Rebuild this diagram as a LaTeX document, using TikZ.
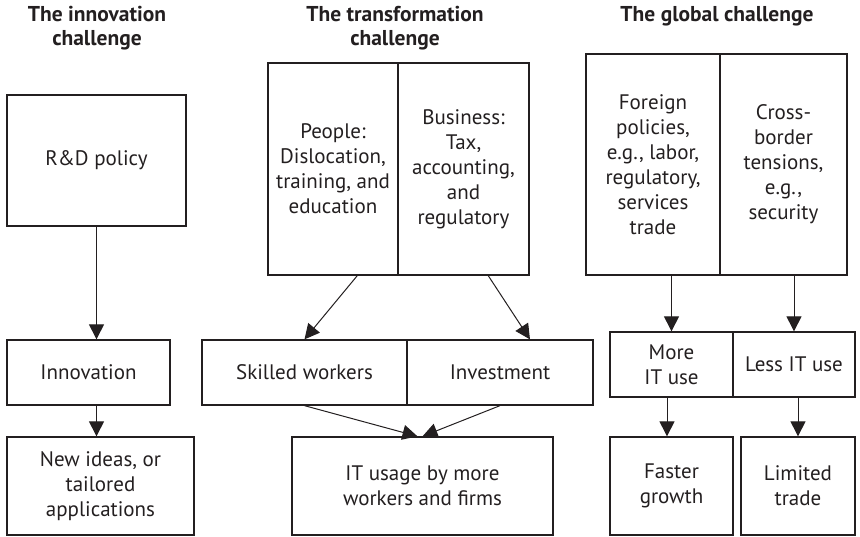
\documentclass[tikz,border=0pt]{standalone}
\usepackage{fontspec}
\setmainfont{PT Sans}
\usetikzlibrary{arrows.meta,calc}
\definecolor{ink}{HTML}{231F20}
\tikzset{
  box/.style={draw=ink, line width=1.3pt, inner sep=0pt, align=center, text=ink,
    font=\fontsize{21}{25}\selectfont},
  ttl/.style={inner sep=0pt, align=center, text=ink, font=\bfseries\fontsize{21.5}{24}\selectfont},
  arr/.style={draw=ink, line width=1pt, -{Triangle[length=15pt,width=15pt]}}
}
\begin{document}
\begin{tikzpicture}[x=1pt,y=-1pt]
\useasboundingbox (0,0) rectangle (860,536);
% titles
\node[ttl] (t1) at (97,28) {The innovation\\challenge};
\node[ttl] (t2) at (395,28) {The transformation\\challenge};
\node[ttl] (t3) at (717,16) {The global challenge};
% innovation column
\node[box, minimum width=179pt, minimum height=131pt] (rd) at (96.5,160.5) {R\&D policy};
\node[box, minimum width=163pt, minimum height=65pt] (inno) at (88.5,372.5) {Innovation};
\node[box, minimum width=187pt, minimum height=98pt] (newid) at (100.5,486) {New ideas, or\\tailored\\applications};
% transformation column
\node[box, minimum width=130pt, minimum height=212pt] (people) at (333,169) {People:\\Dislocation,\\training, and\\education};
\node[box, minimum width=131pt, minimum height=212pt] (business) at (463.5,169) {Business:\\Tax,\\accounting,\\and\\regulatory};
\node[box, minimum width=205pt, minimum height=65pt] (skilled) at (304.5,372.5) {Skilled workers};
\node[box, minimum width=186pt, minimum height=65pt] (invest) at (500,372.5) {Investment};
\node[box, minimum width=261pt, minimum height=98pt] (itusage) at (422.5,486) {IT usage by more\\workers and firms};
% global column
\node[box, minimum width=134pt, minimum height=221pt] (foreign) at (653,164.5) {Foreign\\policies,\\e.g., labor,\\regulatory,\\services\\trade};
\node[box, minimum width=127pt, minimum height=221pt] (cross) at (783.5,164.5) {Cross-\\border\\tensions,\\e.g.,\\security};
\node[box, minimum width=123pt, minimum height=65pt] (more) at (671.5,364.5) {More\\IT use};
\node[box, minimum width=122pt, minimum height=65pt] (less) at (794,364.5) {Less IT use};
\node[box, minimum width=123pt, minimum height=98pt] (faster) at (671.5,486) {Faster\\growth};
\node[box, minimum width=114pt, minimum height=98pt] (limited) at (798,486) {Limited\\trade};
% arrows
\draw[arr] (rd.south) -- (rd.south |- inno.north);
\draw[arr] (rd.south |- inno.south) -- (rd.south |- newid.north);
\draw[arr] ($(people.south west)!0.685!(people.south east)$) -- (skilled.north);
\draw[arr] ($(business.south west)!0.687!(business.south east)$) -- ($(invest.north west)!0.66!(invest.north east)$);
\draw[arr] (skilled.south) -- ($(itusage.north)+(-5,0)$);
\draw[arr] (invest.south) -- (itusage.north);
\draw[arr] (more.north |- foreign.south) -- (more.north);
\draw[arr] (less.north |- cross.south) -- (less.north);
\draw[arr] ($(more.south)+(-4.5,0)$) -- ($(faster.north)+(-4.5,0)$);
\draw[arr] (limited.north |- less.south) -- (limited.north);
\end{tikzpicture}
\end{document}
